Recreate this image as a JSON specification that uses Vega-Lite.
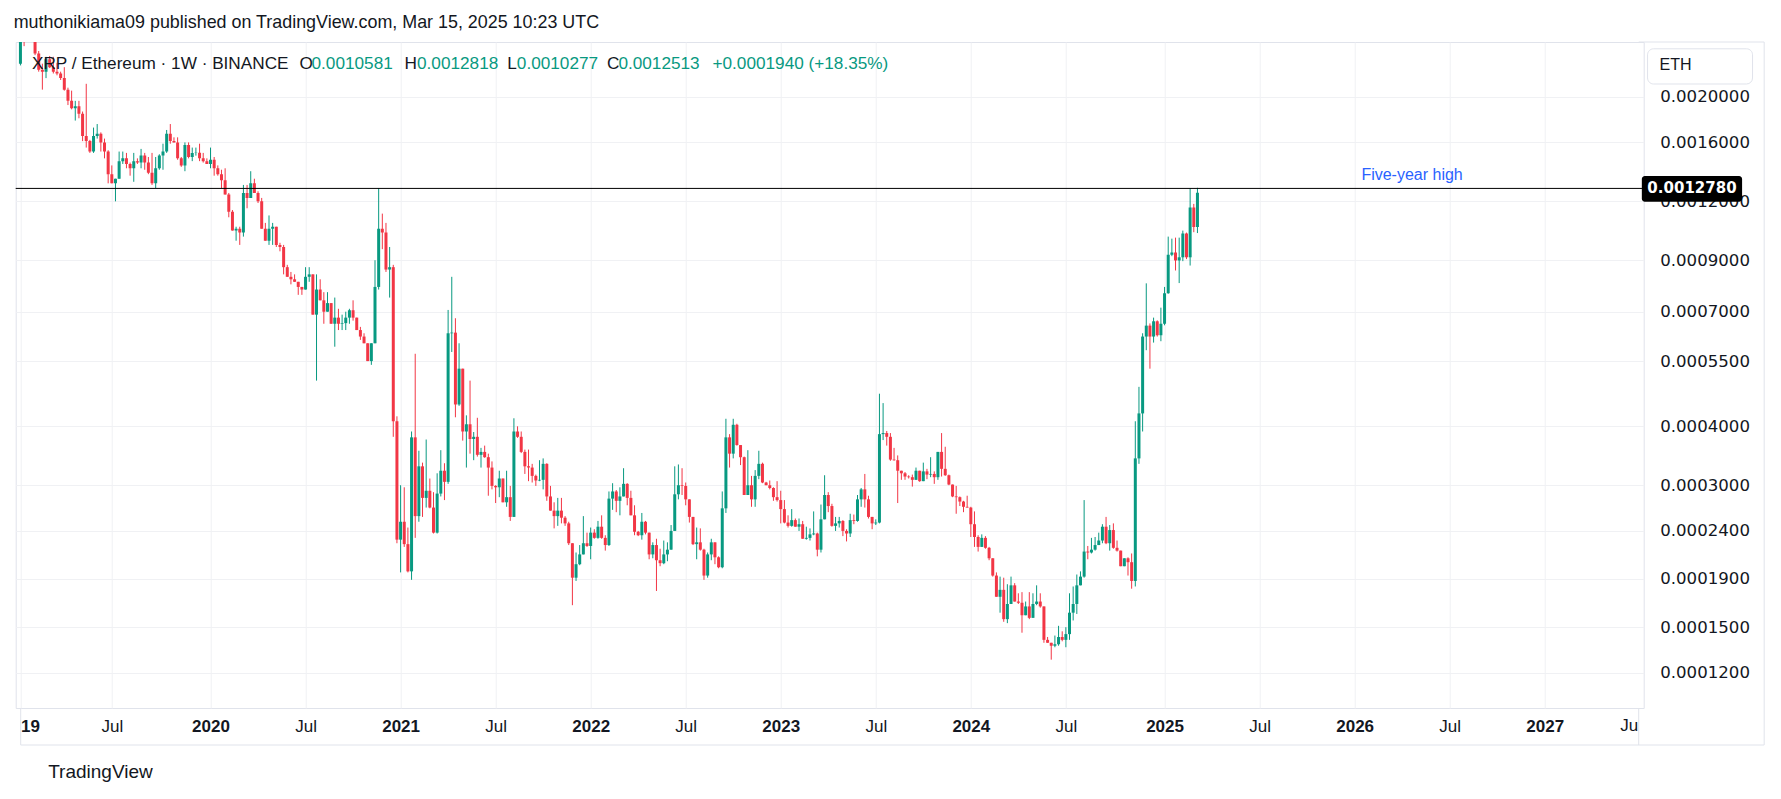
{
  "$schema": "https://vega.github.io/schema/vega-lite/v6.json",
  "width": 1628,
  "height": 666,
  "autosize": {"type": "none"},
  "padding": {"left": 15.7, "top": 42, "right": 137.3, "bottom": 91},
  "background": "white",
  "title": {
    "text": "muthonikiama09 published on TradingView.com, Mar 15, 2025 10:23 UTC",
    "anchor": "start", "frame": "group", "font": "Liberation Sans", "fontSize": 17.9,
    "fontWeight": "normal", "color": "#131722", "baseline": "alphabetic", "offset": 14.6, "dx": -2, "dy": 19.3
  },
  "config": {
    "view": {"stroke": "#e0e3eb"},
    "font": "Liberation Sans"
  },
  "datasets": {
    "candles": [
      {"d":"2019-01-07","o":0.00235,"h":0.0028,"l":0.00233,"c":0.0027},
      {"d":"2019-01-14","o":0.0027,"h":0.0028,"l":0.00256,"c":0.00262},
      {"d":"2019-01-21","o":0.00262,"h":0.0029,"l":0.00262,"c":0.00282},
      {"d":"2019-01-28","o":0.00282,"h":0.00285,"l":0.00266,"c":0.00268},
      {"d":"2019-02-04","o":0.00268,"h":0.0027,"l":0.00245,"c":0.00247},
      {"d":"2019-02-11","o":0.00247,"h":0.0025,"l":0.00226,"c":0.00228},
      {"d":"2019-02-18","o":0.00228,"h":0.00235,"l":0.00207,"c":0.00226},
      {"d":"2019-02-25","o":0.00226,"h":0.00243,"l":0.00219,"c":0.0024},
      {"d":"2019-03-04","o":0.0024,"h":0.00244,"l":0.0023,"c":0.00231},
      {"d":"2019-03-11","o":0.00231,"h":0.00243,"l":0.00224,"c":0.00226},
      {"d":"2019-03-18","o":0.00226,"h":0.00236,"l":0.00222,"c":0.00224},
      {"d":"2019-03-25","o":0.00224,"h":0.00226,"l":0.00217,"c":0.00219},
      {"d":"2019-04-01","o":0.00219,"h":0.00231,"l":0.00206,"c":0.00207},
      {"d":"2019-04-08","o":0.00207,"h":0.00209,"l":0.00192,"c":0.00196},
      {"d":"2019-04-15","o":0.00196,"h":0.00206,"l":0.00188,"c":0.00189},
      {"d":"2019-04-22","o":0.00189,"h":0.00196,"l":0.00178,"c":0.00191},
      {"d":"2019-04-29","o":0.00191,"h":0.00196,"l":0.0018,"c":0.00184},
      {"d":"2019-05-06","o":0.00184,"h":0.00186,"l":0.00161,"c":0.00165},
      {"d":"2019-05-13","o":0.00165,"h":0.00213,"l":0.00156,"c":0.00161},
      {"d":"2019-05-20","o":0.00161,"h":0.00162,"l":0.00152,"c":0.00153},
      {"d":"2019-05-27","o":0.00153,"h":0.00172,"l":0.00152,"c":0.00165},
      {"d":"2019-06-03","o":0.00165,"h":0.00175,"l":0.00163,"c":0.00167},
      {"d":"2019-06-10","o":0.00167,"h":0.00168,"l":0.00153,"c":0.0016},
      {"d":"2019-06-17","o":0.0016,"h":0.00163,"l":0.00148,"c":0.00153},
      {"d":"2019-06-24","o":0.00153,"h":0.00154,"l":0.00131,"c":0.00137},
      {"d":"2019-07-01","o":0.00137,"h":0.00143,"l":0.00131,"c":0.00131},
      {"d":"2019-07-08","o":0.00131,"h":0.00134,"l":0.0012,"c":0.00134},
      {"d":"2019-07-15","o":0.00134,"h":0.00153,"l":0.00134,"c":0.00146},
      {"d":"2019-07-22","o":0.00146,"h":0.00153,"l":0.00144,"c":0.00148},
      {"d":"2019-07-29","o":0.00148,"h":0.00152,"l":0.00141,"c":0.00144},
      {"d":"2019-08-05","o":0.00144,"h":0.00145,"l":0.00136,"c":0.00141},
      {"d":"2019-08-12","o":0.00141,"h":0.00152,"l":0.00132,"c":0.00146},
      {"d":"2019-08-19","o":0.00146,"h":0.00148,"l":0.00144,"c":0.00145},
      {"d":"2019-08-26","o":0.00145,"h":0.00155,"l":0.00141,"c":0.0015},
      {"d":"2019-09-02","o":0.0015,"h":0.00152,"l":0.0014,"c":0.00145},
      {"d":"2019-09-09","o":0.00145,"h":0.00149,"l":0.00137,"c":0.00138},
      {"d":"2019-09-16","o":0.00138,"h":0.00152,"l":0.0013,"c":0.00131},
      {"d":"2019-09-23","o":0.00131,"h":0.00149,"l":0.00128,"c":0.00141},
      {"d":"2019-09-30","o":0.00141,"h":0.00151,"l":0.0014,"c":0.0015},
      {"d":"2019-10-07","o":0.0015,"h":0.00159,"l":0.0014,"c":0.00153},
      {"d":"2019-10-14","o":0.00153,"h":0.0017,"l":0.00152,"c":0.00167},
      {"d":"2019-10-21","o":0.00167,"h":0.00175,"l":0.00159,"c":0.00161},
      {"d":"2019-10-28","o":0.00161,"h":0.00164,"l":0.0016,"c":0.0016},
      {"d":"2019-11-04","o":0.0016,"h":0.00164,"l":0.00147,"c":0.00148},
      {"d":"2019-11-11","o":0.00148,"h":0.00149,"l":0.00142,"c":0.00143},
      {"d":"2019-11-18","o":0.00143,"h":0.0016,"l":0.00139,"c":0.00158},
      {"d":"2019-11-25","o":0.00158,"h":0.0016,"l":0.00148,"c":0.00149},
      {"d":"2019-12-02","o":0.00149,"h":0.00156,"l":0.00146,"c":0.00152},
      {"d":"2019-12-09","o":0.00152,"h":0.00156,"l":0.0015,"c":0.001521},
      {"d":"2019-12-16","o":0.001521,"h":0.00159,"l":0.00146,"c":0.00148},
      {"d":"2019-12-23","o":0.00148,"h":0.00152,"l":0.00145,"c":0.00146},
      {"d":"2019-12-30","o":0.00146,"h":0.00148,"l":0.00144,"c":0.00144},
      {"d":"2020-01-06","o":0.00144,"h":0.00156,"l":0.00141,"c":0.00147},
      {"d":"2020-01-13","o":0.00147,"h":0.00149,"l":0.00136,"c":0.00141},
      {"d":"2020-01-20","o":0.00141,"h":0.00143,"l":0.00136,"c":0.00137},
      {"d":"2020-01-27","o":0.00137,"h":0.0014,"l":0.00128,"c":0.00133},
      {"d":"2020-02-03","o":0.00133,"h":0.00141,"l":0.00124,"c":0.00124},
      {"d":"2020-02-10","o":0.00124,"h":0.00125,"l":0.00111,"c":0.00114},
      {"d":"2020-02-17","o":0.00114,"h":0.00115,"l":0.00104,"c":0.00104},
      {"d":"2020-02-24","o":0.00104,"h":0.00106,"l":0.00099,"c":0.00105},
      {"d":"2020-03-02","o":0.00105,"h":0.00106,"l":0.00097,"c":0.00103},
      {"d":"2020-03-09","o":0.00103,"h":0.0013,"l":0.00101,"c":0.00125},
      {"d":"2020-03-16","o":0.00125,"h":0.0013,"l":0.00116,"c":0.00122},
      {"d":"2020-03-23","o":0.00122,"h":0.00139,"l":0.00122,"c":0.00131},
      {"d":"2020-03-30","o":0.00131,"h":0.00134,"l":0.00125,"c":0.00125},
      {"d":"2020-04-06","o":0.00125,"h":0.00126,"l":0.00119,"c":0.0012},
      {"d":"2020-04-13","o":0.0012,"h":0.00122,"l":0.00105,"c":0.00105},
      {"d":"2020-04-20","o":0.00105,"h":0.00108,"l":0.00099,"c":0.00099},
      {"d":"2020-04-27","o":0.00099,"h":0.00112,"l":0.00097,"c":0.00105},
      {"d":"2020-05-04","o":0.00105,"h":0.00108,"l":0.00097,"c":0.00106},
      {"d":"2020-05-11","o":0.00106,"h":0.00106,"l":0.00096,"c":0.00097},
      {"d":"2020-05-18","o":0.00097,"h":0.00098,"l":0.00094,"c":0.00096},
      {"d":"2020-05-25","o":0.00096,"h":0.00097,"l":0.00084,"c":0.00087},
      {"d":"2020-06-01","o":0.00087,"h":0.00088,"l":0.00083,"c":0.00083},
      {"d":"2020-06-08","o":0.00083,"h":0.00085,"l":0.0008,"c":0.00082},
      {"d":"2020-06-15","o":0.00082,"h":0.00084,"l":0.00081,"c":0.00081},
      {"d":"2020-06-22","o":0.00081,"h":0.00081,"l":0.00076,"c":0.00079},
      {"d":"2020-06-29","o":0.00079,"h":0.00079,"l":0.00076,"c":0.00078},
      {"d":"2020-07-06","o":0.00078,"h":0.00087,"l":0.00078,"c":0.00083},
      {"d":"2020-07-13","o":0.00083,"h":0.00087,"l":0.00081,"c":0.00084},
      {"d":"2020-07-20","o":0.00084,"h":0.00084,"l":0.00069,"c":0.00069},
      {"d":"2020-07-27","o":0.00069,"h":0.00084,"l":0.0005,"c":0.00078},
      {"d":"2020-08-03","o":0.00078,"h":0.00082,"l":0.00074,"c":0.00074},
      {"d":"2020-08-10","o":0.00074,"h":0.00077,"l":0.00066,"c":0.0007},
      {"d":"2020-08-17","o":0.0007,"h":0.00077,"l":0.0007,"c":0.00073},
      {"d":"2020-08-24","o":0.00073,"h":0.00073,"l":0.00066,"c":0.00066},
      {"d":"2020-08-31","o":0.00066,"h":0.00075,"l":0.00059,"c":0.00068},
      {"d":"2020-09-07","o":0.00068,"h":0.00071,"l":0.00064,"c":0.00066},
      {"d":"2020-09-14","o":0.00066,"h":0.00069,"l":0.00064,"c":0.000662},
      {"d":"2020-09-21","o":0.000662,"h":0.0007,"l":0.00064,"c":0.00068},
      {"d":"2020-09-28","o":0.00068,"h":0.00071,"l":0.00066,"c":0.000705},
      {"d":"2020-10-05","o":0.000705,"h":0.00074,"l":0.00067,"c":0.00068},
      {"d":"2020-10-12","o":0.00068,"h":0.00068,"l":0.00064,"c":0.00064},
      {"d":"2020-10-19","o":0.00064,"h":0.00065,"l":0.00061,"c":0.00062},
      {"d":"2020-10-26","o":0.00062,"h":0.00063,"l":0.0006,"c":0.0006},
      {"d":"2020-11-02","o":0.0006,"h":0.0006,"l":0.00055,"c":0.00055},
      {"d":"2020-11-09","o":0.00055,"h":0.0006,"l":0.00054,"c":0.0006},
      {"d":"2020-11-16","o":0.0006,"h":0.0009,"l":0.0006,"c":0.00079},
      {"d":"2020-11-23","o":0.00079,"h":0.00128,"l":0.00078,"c":0.00105},
      {"d":"2020-11-30","o":0.00105,"h":0.00113,"l":0.00095,"c":0.00103},
      {"d":"2020-12-07","o":0.00103,"h":0.00108,"l":0.00085,"c":0.00086},
      {"d":"2020-12-14","o":0.00086,"h":0.00096,"l":0.00075,"c":0.00087},
      {"d":"2020-12-21","o":0.00087,"h":0.00088,"l":0.00038,"c":0.00041},
      {"d":"2020-12-28","o":0.00041,"h":0.00042,"l":0.000226,"c":0.00023},
      {"d":"2021-01-04","o":0.00023,"h":0.0003,"l":0.000196,"c":0.000251},
      {"d":"2021-01-11","o":0.000251,"h":0.000297,"l":0.000222,"c":0.000225},
      {"d":"2021-01-18","o":0.000225,"h":0.000244,"l":0.000196,"c":0.000197},
      {"d":"2021-01-25","o":0.000197,"h":0.00039,"l":0.000189,"c":0.000379},
      {"d":"2021-02-01","o":0.000379,"h":0.00057,"l":0.000232,"c":0.000258},
      {"d":"2021-02-08","o":0.000258,"h":0.000355,"l":0.000251,"c":0.000329},
      {"d":"2021-02-15","o":0.000329,"h":0.000335,"l":0.000257,"c":0.000282},
      {"d":"2021-02-22","o":0.000282,"h":0.000375,"l":0.000269,"c":0.000292},
      {"d":"2021-03-01","o":0.000292,"h":0.00031,"l":0.000268,"c":0.000269},
      {"d":"2021-03-08","o":0.000269,"h":0.00029,"l":0.000237,"c":0.000238},
      {"d":"2021-03-15","o":0.000238,"h":0.000318,"l":0.000237,"c":0.000288},
      {"d":"2021-03-22","o":0.000288,"h":0.000356,"l":0.000284,"c":0.000322},
      {"d":"2021-03-29","o":0.000322,"h":0.000334,"l":0.000279,"c":0.000305},
      {"d":"2021-04-05","o":0.000305,"h":0.000706,"l":0.000302,"c":0.00063},
      {"d":"2021-04-12","o":0.00063,"h":0.00083,"l":0.000575,"c":0.000632},
      {"d":"2021-04-19","o":0.000632,"h":0.000678,"l":0.000418,"c":0.000445},
      {"d":"2021-04-26","o":0.000445,"h":0.0006,"l":0.000442,"c":0.00053},
      {"d":"2021-05-03","o":0.00053,"h":0.00053,"l":0.000373,"c":0.00039},
      {"d":"2021-05-10","o":0.00039,"h":0.000422,"l":0.000327,"c":0.000404},
      {"d":"2021-05-17","o":0.000404,"h":0.0005,"l":0.00035,"c":0.000376},
      {"d":"2021-05-24","o":0.000376,"h":0.000389,"l":0.000339,"c":0.00038},
      {"d":"2021-05-31","o":0.00038,"h":0.000417,"l":0.000345,"c":0.000348},
      {"d":"2021-06-07","o":0.000348,"h":0.00036,"l":0.000327,"c":0.000353},
      {"d":"2021-06-14","o":0.000353,"h":0.000364,"l":0.000343,"c":0.000344},
      {"d":"2021-06-21","o":0.000344,"h":0.00035,"l":0.000285,"c":0.000327},
      {"d":"2021-06-28","o":0.000327,"h":0.000337,"l":0.000294,"c":0.000299},
      {"d":"2021-07-05","o":0.000299,"h":0.0003,"l":0.000275,"c":0.000297},
      {"d":"2021-07-12","o":0.000297,"h":0.000322,"l":0.000283,"c":0.00031},
      {"d":"2021-07-19","o":0.00031,"h":0.00031,"l":0.000276,"c":0.000276},
      {"d":"2021-07-26","o":0.000276,"h":0.000322,"l":0.00027,"c":0.000283},
      {"d":"2021-08-02","o":0.000283,"h":0.000299,"l":0.000252,"c":0.000257},
      {"d":"2021-08-09","o":0.000257,"h":0.000416,"l":0.000257,"c":0.00039},
      {"d":"2021-08-16","o":0.00039,"h":0.0004,"l":0.000378,"c":0.00038},
      {"d":"2021-08-23","o":0.00038,"h":0.00039,"l":0.000351,"c":0.000353},
      {"d":"2021-08-30","o":0.000353,"h":0.000357,"l":0.000317,"c":0.000329},
      {"d":"2021-09-06","o":0.000329,"h":0.000357,"l":0.000306,"c":0.000327},
      {"d":"2021-09-13","o":0.000327,"h":0.000333,"l":0.000304,"c":0.000314},
      {"d":"2021-09-20","o":0.000314,"h":0.000316,"l":0.000299,"c":0.000307},
      {"d":"2021-09-27","o":0.000307,"h":0.000339,"l":0.000306,"c":0.000308},
      {"d":"2021-10-04","o":0.000308,"h":0.000342,"l":0.000294,"c":0.000333},
      {"d":"2021-10-11","o":0.000333,"h":0.000334,"l":0.000278,"c":0.000284},
      {"d":"2021-10-18","o":0.000284,"h":0.000299,"l":0.000265,"c":0.000265},
      {"d":"2021-10-25","o":0.000265,"h":0.000276,"l":0.000243,"c":0.000258},
      {"d":"2021-11-01","o":0.000258,"h":0.000282,"l":0.000246,"c":0.000265},
      {"d":"2021-11-08","o":0.000265,"h":0.000282,"l":0.000249,"c":0.000256},
      {"d":"2021-11-15","o":0.000256,"h":0.000258,"l":0.000246,"c":0.000249},
      {"d":"2021-11-22","o":0.000249,"h":0.000251,"l":0.000224,"c":0.000226},
      {"d":"2021-11-29","o":0.000226,"h":0.000226,"l":0.000167,"c":0.000191},
      {"d":"2021-12-06","o":0.000191,"h":0.000216,"l":0.000188,"c":0.000204},
      {"d":"2021-12-13","o":0.000204,"h":0.000224,"l":0.000203,"c":0.000214},
      {"d":"2021-12-20","o":0.000214,"h":0.000258,"l":0.000214,"c":0.000226},
      {"d":"2021-12-27","o":0.000226,"h":0.000238,"l":0.000222,"c":0.000223},
      {"d":"2022-01-03","o":0.000223,"h":0.000244,"l":0.000209,"c":0.000238},
      {"d":"2022-01-10","o":0.000238,"h":0.000242,"l":0.000231,"c":0.000232},
      {"d":"2022-01-17","o":0.000232,"h":0.000252,"l":0.000231,"c":0.000245},
      {"d":"2022-01-24","o":0.000245,"h":0.000259,"l":0.000231,"c":0.000232},
      {"d":"2022-01-31","o":0.000232,"h":0.000235,"l":0.000218,"c":0.000224},
      {"d":"2022-02-07","o":0.000224,"h":0.000291,"l":0.000223,"c":0.000281},
      {"d":"2022-02-14","o":0.000281,"h":0.000303,"l":0.000266,"c":0.000291},
      {"d":"2022-02-21","o":0.000291,"h":0.000293,"l":0.000263,"c":0.000278},
      {"d":"2022-02-28","o":0.000278,"h":0.000297,"l":0.000259,"c":0.000284},
      {"d":"2022-03-07","o":0.000284,"h":0.000326,"l":0.000284,"c":0.000302},
      {"d":"2022-03-14","o":0.000302,"h":0.000303,"l":0.000272,"c":0.000282},
      {"d":"2022-03-21","o":0.000282,"h":0.000292,"l":0.000259,"c":0.000259},
      {"d":"2022-03-28","o":0.000259,"h":0.000272,"l":0.000235,"c":0.000239},
      {"d":"2022-04-04","o":0.000239,"h":0.00024,"l":0.000234,"c":0.000235},
      {"d":"2022-04-11","o":0.000235,"h":0.000262,"l":0.00023,"c":0.000251},
      {"d":"2022-04-18","o":0.000251,"h":0.000252,"l":0.000236,"c":0.000238},
      {"d":"2022-04-25","o":0.000238,"h":0.000238,"l":0.000209,"c":0.000214},
      {"d":"2022-05-02","o":0.000214,"h":0.000227,"l":0.00021,"c":0.000224},
      {"d":"2022-05-09","o":0.000224,"h":0.000231,"l":0.000179,"c":0.000208},
      {"d":"2022-05-16","o":0.000208,"h":0.00022,"l":0.000202,"c":0.000205},
      {"d":"2022-05-23","o":0.000205,"h":0.000229,"l":0.000204,"c":0.000214},
      {"d":"2022-05-30","o":0.000214,"h":0.000227,"l":0.000207,"c":0.000219},
      {"d":"2022-06-06","o":0.000219,"h":0.000247,"l":0.000219,"c":0.00024},
      {"d":"2022-06-13","o":0.00024,"h":0.000329,"l":0.00024,"c":0.000287},
      {"d":"2022-06-20","o":0.000287,"h":0.000332,"l":0.00028,"c":0.0003},
      {"d":"2022-06-27","o":0.0003,"h":0.000326,"l":0.000286,"c":0.000299},
      {"d":"2022-07-04","o":0.000299,"h":0.000304,"l":0.000272,"c":0.00028},
      {"d":"2022-07-11","o":0.00028,"h":0.00028,"l":0.00025,"c":0.000257},
      {"d":"2022-07-18","o":0.000257,"h":0.000257,"l":0.000224,"c":0.000225},
      {"d":"2022-07-25","o":0.000225,"h":0.000244,"l":0.000209,"c":0.000227},
      {"d":"2022-08-01","o":0.000227,"h":0.000243,"l":0.000218,"c":0.000219},
      {"d":"2022-08-08","o":0.000219,"h":0.00022,"l":0.000189,"c":0.000193},
      {"d":"2022-08-15","o":0.000193,"h":0.000216,"l":0.000191,"c":0.000214},
      {"d":"2022-08-22","o":0.000214,"h":0.000231,"l":0.000208,"c":0.000227},
      {"d":"2022-08-29","o":0.000227,"h":0.000227,"l":0.000204,"c":0.000211},
      {"d":"2022-09-05","o":0.000211,"h":0.000212,"l":0.0002,"c":0.000201},
      {"d":"2022-09-12","o":0.000201,"h":0.000291,"l":0.0002,"c":0.000268},
      {"d":"2022-09-19","o":0.000268,"h":0.000415,"l":0.000262,"c":0.000379},
      {"d":"2022-09-26","o":0.000379,"h":0.000385,"l":0.000327,"c":0.00035},
      {"d":"2022-10-03","o":0.00035,"h":0.000415,"l":0.000342,"c":0.000403},
      {"d":"2022-10-10","o":0.000403,"h":0.000405,"l":0.000364,"c":0.000365},
      {"d":"2022-10-17","o":0.000365,"h":0.000365,"l":0.000331,"c":0.000344},
      {"d":"2022-10-24","o":0.000344,"h":0.000345,"l":0.000286,"c":0.000286},
      {"d":"2022-10-31","o":0.000286,"h":0.000356,"l":0.000286,"c":0.0003},
      {"d":"2022-11-07","o":0.0003,"h":0.000314,"l":0.00027,"c":0.00028},
      {"d":"2022-11-14","o":0.00028,"h":0.000323,"l":0.00027,"c":0.000314},
      {"d":"2022-11-21","o":0.000314,"h":0.000355,"l":0.000309,"c":0.000333},
      {"d":"2022-11-28","o":0.000333,"h":0.000335,"l":0.000303,"c":0.000304},
      {"d":"2022-12-05","o":0.000304,"h":0.000305,"l":0.0003,"c":0.0003},
      {"d":"2022-12-12","o":0.0003,"h":0.000307,"l":0.000294,"c":0.000296},
      {"d":"2022-12-19","o":0.000296,"h":0.000297,"l":0.000278,"c":0.000283},
      {"d":"2022-12-26","o":0.000283,"h":0.000306,"l":0.000277,"c":0.000279},
      {"d":"2023-01-02","o":0.000279,"h":0.000292,"l":0.000249,"c":0.000267},
      {"d":"2023-01-09","o":0.000267,"h":0.000279,"l":0.000249,"c":0.00025},
      {"d":"2023-01-16","o":0.00025,"h":0.000259,"l":0.000244,"c":0.000246},
      {"d":"2023-01-23","o":0.000246,"h":0.000267,"l":0.000245,"c":0.000253},
      {"d":"2023-01-30","o":0.000253,"h":0.000255,"l":0.000245,"c":0.000245},
      {"d":"2023-02-06","o":0.000245,"h":0.000255,"l":0.00024,"c":0.000248},
      {"d":"2023-02-13","o":0.000248,"h":0.000252,"l":0.000231,"c":0.000231},
      {"d":"2023-02-20","o":0.000231,"h":0.000245,"l":0.00023,"c":0.000232},
      {"d":"2023-02-27","o":0.000232,"h":0.000243,"l":0.000229,"c":0.000236},
      {"d":"2023-03-06","o":0.000236,"h":0.000264,"l":0.000235,"c":0.000237},
      {"d":"2023-03-13","o":0.000237,"h":0.000238,"l":0.000212,"c":0.000219},
      {"d":"2023-03-20","o":0.000219,"h":0.000273,"l":0.000216,"c":0.000254},
      {"d":"2023-03-27","o":0.000254,"h":0.000315,"l":0.000254,"c":0.000286},
      {"d":"2023-04-03","o":0.000286,"h":0.00029,"l":0.000263,"c":0.000271},
      {"d":"2023-04-10","o":0.000271,"h":0.000274,"l":0.000245,"c":0.000246},
      {"d":"2023-04-17","o":0.000246,"h":0.000257,"l":0.00024,"c":0.000249},
      {"d":"2023-04-24","o":0.000249,"h":0.000257,"l":0.000244,"c":0.000252},
      {"d":"2023-05-01","o":0.000252,"h":0.000253,"l":0.000234,"c":0.00024},
      {"d":"2023-05-08","o":0.00024,"h":0.000242,"l":0.000228,"c":0.000237},
      {"d":"2023-05-15","o":0.000237,"h":0.000261,"l":0.000233,"c":0.000253},
      {"d":"2023-05-22","o":0.000253,"h":0.00026,"l":0.000248,"c":0.000252},
      {"d":"2023-05-29","o":0.000252,"h":0.000286,"l":0.000251,"c":0.00028},
      {"d":"2023-06-05","o":0.00028,"h":0.000296,"l":0.00027,"c":0.000294},
      {"d":"2023-06-12","o":0.000294,"h":0.000317,"l":0.000269,"c":0.00028},
      {"d":"2023-06-19","o":0.00028,"h":0.000285,"l":0.000255,"c":0.000257},
      {"d":"2023-06-26","o":0.000257,"h":0.000257,"l":0.000242,"c":0.000249},
      {"d":"2023-07-03","o":0.000249,"h":0.000254,"l":0.000247,"c":0.00025},
      {"d":"2023-07-10","o":0.00025,"h":0.000469,"l":0.000249,"c":0.000385},
      {"d":"2023-07-17","o":0.000385,"h":0.000448,"l":0.000374,"c":0.000387},
      {"d":"2023-07-24","o":0.000387,"h":0.000391,"l":0.000364,"c":0.00038},
      {"d":"2023-07-31","o":0.00038,"h":0.000387,"l":0.000338,"c":0.00034},
      {"d":"2023-08-07","o":0.00034,"h":0.00036,"l":0.000338,"c":0.000339},
      {"d":"2023-08-14","o":0.000339,"h":0.000347,"l":0.000275,"c":0.000322},
      {"d":"2023-08-21","o":0.000322,"h":0.000322,"l":0.000308,"c":0.000318},
      {"d":"2023-08-28","o":0.000318,"h":0.00032,"l":0.000308,"c":0.000313},
      {"d":"2023-09-04","o":0.000313,"h":0.000315,"l":0.00031,"c":0.000312},
      {"d":"2023-09-11","o":0.000312,"h":0.000316,"l":0.000298,"c":0.000308},
      {"d":"2023-09-18","o":0.000308,"h":0.000327,"l":0.000308,"c":0.000322},
      {"d":"2023-09-25","o":0.000322,"h":0.000322,"l":0.000305,"c":0.000306},
      {"d":"2023-10-02","o":0.000306,"h":0.000335,"l":0.000306,"c":0.000321},
      {"d":"2023-10-09","o":0.000321,"h":0.000325,"l":0.000309,"c":0.000316},
      {"d":"2023-10-16","o":0.000316,"h":0.000344,"l":0.000312,"c":0.000317},
      {"d":"2023-10-23","o":0.000317,"h":0.000321,"l":0.000302,"c":0.000312},
      {"d":"2023-10-30","o":0.000312,"h":0.000353,"l":0.000308,"c":0.000353},
      {"d":"2023-11-06","o":0.000353,"h":0.000387,"l":0.000313,"c":0.000325},
      {"d":"2023-11-13","o":0.000325,"h":0.000362,"l":0.000314,"c":0.000315},
      {"d":"2023-11-20","o":0.000315,"h":0.000316,"l":0.0003,"c":0.000301},
      {"d":"2023-11-27","o":0.000301,"h":0.000301,"l":0.000283,"c":0.000284},
      {"d":"2023-12-04","o":0.000284,"h":0.000299,"l":0.000261,"c":0.000283},
      {"d":"2023-12-11","o":0.000283,"h":0.000284,"l":0.000271,"c":0.000277},
      {"d":"2023-12-18","o":0.000277,"h":0.000278,"l":0.000263,"c":0.00027},
      {"d":"2023-12-25","o":0.00027,"h":0.000285,"l":0.000269,"c":0.000269},
      {"d":"2024-01-01","o":0.000269,"h":0.00027,"l":0.000233,"c":0.000248},
      {"d":"2024-01-08","o":0.000248,"h":0.000264,"l":0.000222,"c":0.000233},
      {"d":"2024-01-15","o":0.000233,"h":0.000235,"l":0.000217,"c":0.000222},
      {"d":"2024-01-22","o":0.000222,"h":0.000236,"l":0.000222,"c":0.000232},
      {"d":"2024-01-29","o":0.000232,"h":0.000234,"l":0.00022,"c":0.000221},
      {"d":"2024-02-05","o":0.000221,"h":0.000222,"l":0.000208,"c":0.00021},
      {"d":"2024-02-12","o":0.00021,"h":0.00021,"l":0.000192,"c":0.000193},
      {"d":"2024-02-19","o":0.000193,"h":0.000196,"l":0.000174,"c":0.000174},
      {"d":"2024-02-26","o":0.000174,"h":0.000192,"l":0.000161,"c":0.00018},
      {"d":"2024-03-04","o":0.00018,"h":0.000191,"l":0.000154,"c":0.000156},
      {"d":"2024-03-11","o":0.000156,"h":0.000185,"l":0.000153,"c":0.000168},
      {"d":"2024-03-18","o":0.000168,"h":0.000192,"l":0.000168,"c":0.000184},
      {"d":"2024-03-25","o":0.000184,"h":0.000186,"l":0.00017,"c":0.00017},
      {"d":"2024-04-01","o":0.00017,"h":0.000177,"l":0.000168,"c":0.000169},
      {"d":"2024-04-08","o":0.000169,"h":0.000178,"l":0.000146,"c":0.000159},
      {"d":"2024-04-15","o":0.000159,"h":0.00017,"l":0.000159,"c":0.000166},
      {"d":"2024-04-22","o":0.000166,"h":0.000178,"l":0.000156,"c":0.000157},
      {"d":"2024-04-29","o":0.000157,"h":0.000177,"l":0.000157,"c":0.000168},
      {"d":"2024-05-06","o":0.000168,"h":0.000184,"l":0.000167,"c":0.00017},
      {"d":"2024-05-13","o":0.00017,"h":0.000177,"l":0.000165,"c":0.000166},
      {"d":"2024-05-20","o":0.000166,"h":0.000166,"l":0.000139,"c":0.000141},
      {"d":"2024-05-27","o":0.000141,"h":0.000143,"l":0.000139,"c":0.000139},
      {"d":"2024-06-03","o":0.000139,"h":0.000139,"l":0.000128,"c":0.000137},
      {"d":"2024-06-10","o":0.000137,"h":0.000144,"l":0.000136,"c":0.000138},
      {"d":"2024-06-17","o":0.000138,"h":0.000151,"l":0.000137,"c":0.000143},
      {"d":"2024-06-24","o":0.000143,"h":0.000147,"l":0.00014,"c":0.000141},
      {"d":"2024-07-01","o":0.000141,"h":0.00015,"l":0.000136,"c":0.000145},
      {"d":"2024-07-08","o":0.000145,"h":0.000177,"l":0.000141,"c":0.000161},
      {"d":"2024-07-15","o":0.000161,"h":0.000183,"l":0.000155,"c":0.000168},
      {"d":"2024-07-22","o":0.000168,"h":0.000194,"l":0.00016,"c":0.000184},
      {"d":"2024-07-29","o":0.000184,"h":0.000197,"l":0.000184,"c":0.000192},
      {"d":"2024-08-05","o":0.000192,"h":0.000279,"l":0.000191,"c":0.000217},
      {"d":"2024-08-12","o":0.000217,"h":0.000223,"l":0.000209,"c":0.000216},
      {"d":"2024-08-19","o":0.000216,"h":0.000232,"l":0.000215,"c":0.000219},
      {"d":"2024-08-26","o":0.000219,"h":0.000233,"l":0.000218,"c":0.000224},
      {"d":"2024-09-02","o":0.000224,"h":0.000238,"l":0.000224,"c":0.000229},
      {"d":"2024-09-09","o":0.000229,"h":0.000248,"l":0.000226,"c":0.000245},
      {"d":"2024-09-16","o":0.000245,"h":0.000257,"l":0.000225,"c":0.000226},
      {"d":"2024-09-23","o":0.000226,"h":0.000247,"l":0.000218,"c":0.000241},
      {"d":"2024-09-30","o":0.000241,"h":0.000249,"l":0.00022,"c":0.000221},
      {"d":"2024-10-07","o":0.000221,"h":0.000229,"l":0.000217,"c":0.000218},
      {"d":"2024-10-14","o":0.000218,"h":0.000218,"l":0.000202,"c":0.000202},
      {"d":"2024-10-21","o":0.000202,"h":0.00021,"l":0.000202,"c":0.00021},
      {"d":"2024-10-28","o":0.00021,"h":0.000211,"l":0.000193,"c":0.000206},
      {"d":"2024-11-04","o":0.000206,"h":0.000215,"l":0.000181,"c":0.000188},
      {"d":"2024-11-11","o":0.000188,"h":0.00041,"l":0.000183,"c":0.000342},
      {"d":"2024-11-18","o":0.000342,"h":0.000485,"l":0.000333,"c":0.000426},
      {"d":"2024-11-25","o":0.000426,"h":0.00063,"l":0.00039,"c":0.00062},
      {"d":"2024-12-02","o":0.00062,"h":0.000804,"l":0.00058,"c":0.000654},
      {"d":"2024-12-09","o":0.000654,"h":0.000661,"l":0.00053,"c":0.00062},
      {"d":"2024-12-16","o":0.00062,"h":0.00068,"l":0.000602,"c":0.000668},
      {"d":"2024-12-23","o":0.000668,"h":0.000671,"l":0.00062,"c":0.000624},
      {"d":"2024-12-30","o":0.000624,"h":0.000714,"l":0.000606,"c":0.00066},
      {"d":"2025-01-06","o":0.00066,"h":0.00079,"l":0.000655,"c":0.000766},
      {"d":"2025-01-13","o":0.000766,"h":0.00101,"l":0.000764,"c":0.000924},
      {"d":"2025-01-20","o":0.000924,"h":0.001,"l":0.000918,"c":0.000935},
      {"d":"2025-01-27","o":0.000935,"h":0.001005,"l":0.000856,"c":0.000899},
      {"d":"2025-02-03","o":0.000899,"h":0.001005,"l":0.000805,"c":0.000913},
      {"d":"2025-02-10","o":0.000913,"h":0.00104,"l":0.000896,"c":0.001026},
      {"d":"2025-02-17","o":0.001026,"h":0.00103,"l":0.000905,"c":0.000913},
      {"d":"2025-02-24","o":0.000913,"h":0.001278,"l":0.000877,"c":0.001165},
      {"d":"2025-03-03","o":0.001165,"h":0.001185,"l":0.001032,"c":0.0010581},
      {"d":"2025-03-10","o":0.0010581,"h":0.0012818,"l":0.0010277,"c":0.0012513}
    ]
  },
  "layer": [
    {
      "data": {"name": "candles"},
      "mark": {"type": "rule", "clip": true, "strokeWidth": 1},
      "encoding": {
        "x": {
          "field": "d", "type": "temporal",
          "scale": {"type": "utc", "domain": [{"year": 2019, "month": 1, "date": 7, "hours": 12, "utc": true}, {"year": 2027, "month": 7, "date": 3, "utc": true}]},
          "axis": {
            "values": [
              {"year": 2019, "month": 1, "date": 7, "utc": true},
              {"year": 2019, "month": 7, "date": 1, "utc": true},
              {"year": 2020, "month": 1, "date": 6, "utc": true},
              {"year": 2020, "month": 7, "date": 6, "utc": true},
              {"year": 2021, "month": 1, "date": 4, "utc": true},
              {"year": 2021, "month": 7, "date": 5, "utc": true},
              {"year": 2022, "month": 1, "date": 3, "utc": true},
              {"year": 2022, "month": 7, "date": 4, "utc": true},
              {"year": 2023, "month": 1, "date": 2, "utc": true},
              {"year": 2023, "month": 7, "date": 3, "utc": true},
              {"year": 2024, "month": 1, "date": 1, "utc": true},
              {"year": 2024, "month": 7, "date": 1, "utc": true},
              {"year": 2025, "month": 1, "date": 6, "utc": true},
              {"year": 2025, "month": 7, "date": 7, "utc": true},
              {"year": 2026, "month": 1, "date": 5, "utc": true},
              {"year": 2026, "month": 7, "date": 6, "utc": true},
              {"year": 2027, "month": 1, "date": 4, "utc": true}
            ],
            "labelExpr": "utcmonth(datum.value) == 0 ? (utcyear(datum.value) == 2019 ? '19' : '' + utcyear(datum.value)) : 'Jul'",
            "labelFontWeight": {"condition": {"test": "utcmonth(datum.value) == 0", "value": "bold"}, "value": "normal"},
            "labelAlign": {"condition": {"test": "utcyear(datum.value) == 2019 && utcmonth(datum.value) == 0", "value": "left"}, "value": "center"},
            "labelFont": "Liberation Sans", "labelFontSize": 17, "labelColor": "#131722",
            "labelFlush": false, "labelOverlap": false, "labelBaseline": "middle", "labelPadding": 18,
            "ticks": false, "tickSize": 0, "domain": false,
            "grid": true, "gridColor": "#f0f1f4", "gridWidth": 1,
            "title": "TradingView", "titleAnchor": "start", "titleAlign": "left", "titleBaseline": "middle",
            "titleX": 32, "titleY": 63, "titleFont": "Liberation Sans", "titleFontSize": 19, "titleFontWeight": "normal", "titleColor": "#131722"
          }
        },
        "y": {
          "field": "l", "type": "quantitative",
          "scale": {"type": "log", "domain": [0.00010109, 0.0026123], "nice": false, "zero": false},
          "axis": {
            "orient": "right",
            "values": [0.002, 0.0016, 0.0012, 0.0009, 0.0007, 0.00055, 0.0004, 0.0003, 0.00024, 0.00019, 0.00015, 0.00012],
            "format": ".7f",
            "labelFont": "DejaVu Sans", "labelFontSize": 16.6, "labelColor": "#131722",
            "labelAlign": "left", "labelBaseline": "middle", "labelPadding": 16,
            "ticks": false, "tickSize": 0, "domain": false,
            "grid": true, "gridColor": "#f0f1f4", "gridWidth": 1,
            "title": null
          }
        },
        "y2": {"field": "h"},
        "color": {"condition": {"test": "datum.c >= datum.o", "value": "#089981"}, "value": "#F23645"}
      }
    },
    {
      "data": {"name": "candles"},
      "mark": {"type": "bar", "clip": true, "size": 3},
      "encoding": {
        "x": {"field": "d", "type": "temporal"},
        "y": {"field": "o", "type": "quantitative"},
        "y2": {"field": "c"},
        "color": {"condition": {"test": "datum.c >= datum.o", "value": "#089981"}, "value": "#F23645"}
      }
    },
    {
      "data": {"values": [{}]},
      "mark": {"type": "rule", "color": "#000000", "strokeWidth": 1},
      "encoding": {"y": {"datum": 0.001278, "type": "quantitative"}}
    },
    {
      "data": {"values": [{}]},
      "mark": {"type": "rule", "color": "#e0e3eb", "strokeWidth": 1},
      "encoding": {
        "x": {"datum": {"year": 2019, "month": 1, "date": 7, "hours": 12, "utc": true}, "type": "temporal"},
        "x2": {"datum": {"year": 2028, "month": 2, "date": 28, "hours": 7, "utc": true}},
        "y": {"datum": 0.00008438, "type": "quantitative"}
      }
    },
    {
      "data": {"values": [{}]},
      "mark": {"type": "rule", "color": "#e0e3eb", "strokeWidth": 1},
      "encoding": {
        "x": {"datum": {"year": 2027, "month": 7, "date": 3, "utc": true}, "type": "temporal"},
        "x2": {"datum": {"year": 2028, "month": 2, "date": 28, "hours": 7, "utc": true}},
        "y": {"datum": 0.0026123, "type": "quantitative"}
      }
    },
    {
      "data": {"values": [{}]},
      "mark": {"type": "rule", "color": "#e0e3eb", "strokeWidth": 1},
      "encoding": {
        "x": {"datum": {"year": 2028, "month": 2, "date": 28, "hours": 7, "utc": true}, "type": "temporal"},
        "y": {"datum": 0.0026123, "type": "quantitative"},
        "y2": {"datum": 0.00008438}
      }
    },
    {
      "data": {"values": [{}]},
      "mark": {"type": "rule", "color": "#e0e3eb", "strokeWidth": 1},
      "encoding": {
        "x": {"datum": {"year": 2027, "month": 7, "date": 3, "utc": true}, "type": "temporal"},
        "y": {"datum": 0.00010109, "type": "quantitative"},
        "y2": {"datum": 0.00008438}
      }
    },
    {
      "data": {"values": [{}]},
      "mark": {"type": "rule", "color": "#e0e3eb", "strokeWidth": 1},
      "encoding": {
        "x": {"datum": {"year": 2019, "month": 1, "date": 7, "hours": 12, "utc": true}, "type": "temporal"},
        "y": {"datum": 0.00010109, "type": "quantitative"},
        "y2": {"datum": 0.00008438}
      }
    },
    {
      "data": {"values": [{}]},
      "mark": {"type": "text", "text": "Ju", "color": "#131722", "font": "Liberation Sans", "fontSize": 17, "align": "right", "baseline": "middle"},
      "encoding": {
        "x": {"datum": {"year": 2027, "month": 7, "date": 2, "utc": true}, "type": "temporal"},
        "y": {"datum": 0.00009258, "type": "quantitative"}
      }
    },
    {
      "data": {"values": [{}]},
      "mark": {"type": "text", "text": "Five-year high", "color": "#2962FF", "font": "Liberation Sans", "fontSize": 16, "align": "center", "baseline": "middle"},
      "encoding": {
        "x": {"datum": {"year": 2026, "month": 4, "date": 25, "utc": true}, "type": "temporal"},
        "y": {"datum": 0.0013646, "type": "quantitative"}
      }
    },
    {
      "data": {"values": [{}]},
      "mark": {"type": "rect", "color": "#000000", "cornerRadius": 3},
      "encoding": {
        "x": {"datum": {"year": 2027, "month": 7, "date": 9, "utc": true}, "type": "temporal"},
        "x2": {"datum": {"year": 2028, "month": 1, "date": 17, "utc": true}},
        "y": {"datum": 0.001358, "type": "quantitative"},
        "y2": {"datum": 0.0011978}
      }
    },
    {
      "data": {"values": [{}]},
      "mark": {"type": "text", "text": "0.0012780", "color": "#ffffff", "font": "DejaVu Sans", "fontSize": 15, "fontWeight": "bold", "align": "center", "baseline": "middle"},
      "encoding": {
        "x": {"datum": {"year": 2027, "month": 10, "date": 13, "utc": true}, "type": "temporal"},
        "y": {"datum": 0.001278, "type": "quantitative"}
      }
    },
    {
      "data": {"values": [{}]},
      "mark": {"type": "rect", "fill": "#ffffff", "stroke": "#e0e3eb", "strokeWidth": 1, "cornerRadius": 6},
      "encoding": {
        "x": {"datum": {"year": 2027, "month": 7, "date": 20, "utc": true}, "type": "temporal"},
        "x2": {"datum": {"year": 2028, "month": 2, "date": 6, "utc": true}},
        "y": {"datum": 0.002527, "type": "quantitative"},
        "y2": {"datum": 0.002128}
      }
    },
    {
      "data": {"values": [{}]},
      "mark": {"type": "text", "text": "ETH", "color": "#131722", "font": "Liberation Sans", "fontSize": 16, "align": "left", "baseline": "middle"},
      "encoding": {
        "x": {"datum": {"year": 2027, "month": 8, "date": 12, "utc": true}, "type": "temporal"},
        "y": {"datum": 0.002338, "type": "quantitative"}
      }
    },
    {
      "data": {"values": [{}]},
      "mark": {"type": "text", "text": "XRP / Ethereum · 1W · BINANCE", "color": "#131722", "font": "Liberation Sans", "fontSize": 17.2, "align": "left", "baseline": "middle"},
      "encoding": {
        "x": {"datum": {"year": 2019, "month": 1, "date": 29, "utc": true}, "type": "temporal"},
        "y": {"datum": 0.0023508, "type": "quantitative"}
      }
    },
    {
      "data": {"values": [{}]},
      "mark": {"type": "text", "text": "O", "color": "#131722", "font": "Liberation Sans", "fontSize": 17.2, "align": "left", "baseline": "middle"},
      "encoding": {
        "x": {"datum": {"year": 2020, "month": 6, "date": 24, "hours": 7, "utc": true}, "type": "temporal"},
        "y": {"datum": 0.0023508, "type": "quantitative"}
      }
    },
    {
      "data": {"values": [{}]},
      "mark": {"type": "text", "text": "0.0010581", "color": "#089981", "font": "Liberation Sans", "fontSize": 17.2, "align": "left", "baseline": "middle"},
      "encoding": {
        "x": {"datum": {"year": 2020, "month": 7, "date": 17, "hours": 10, "utc": true}, "type": "temporal"},
        "y": {"datum": 0.0023508, "type": "quantitative"}
      }
    },
    {
      "data": {"values": [{}]},
      "mark": {"type": "text", "text": "H", "color": "#131722", "font": "Liberation Sans", "fontSize": 17.2, "align": "left", "baseline": "middle"},
      "encoding": {
        "x": {"datum": {"year": 2021, "month": 1, "date": 11, "hours": 7, "utc": true}, "type": "temporal"},
        "y": {"datum": 0.0023508, "type": "quantitative"}
      }
    },
    {
      "data": {"values": [{}]},
      "mark": {"type": "text", "text": "0.0012818", "color": "#089981", "font": "Liberation Sans", "fontSize": 17.2, "align": "left", "baseline": "middle"},
      "encoding": {
        "x": {"datum": {"year": 2021, "month": 2, "date": 4, "hours": 12, "utc": true}, "type": "temporal"},
        "y": {"datum": 0.0023508, "type": "quantitative"}
      }
    },
    {
      "data": {"values": [{}]},
      "mark": {"type": "text", "text": "L", "color": "#131722", "font": "Liberation Sans", "fontSize": 17.2, "align": "left", "baseline": "middle"},
      "encoding": {
        "x": {"datum": {"year": 2021, "month": 7, "date": 27, "hours": 2, "utc": true}, "type": "temporal"},
        "y": {"datum": 0.0023508, "type": "quantitative"}
      }
    },
    {
      "data": {"values": [{}]},
      "mark": {"type": "text", "text": "0.0010277", "color": "#089981", "font": "Liberation Sans", "fontSize": 17.2, "align": "left", "baseline": "middle"},
      "encoding": {
        "x": {"datum": {"year": 2021, "month": 8, "date": 14, "hours": 14, "utc": true}, "type": "temporal"},
        "y": {"datum": 0.0023508, "type": "quantitative"}
      }
    },
    {
      "data": {"values": [{}]},
      "mark": {"type": "text", "text": "C", "color": "#131722", "font": "Liberation Sans", "fontSize": 17.2, "align": "left", "baseline": "middle"},
      "encoding": {
        "x": {"datum": {"year": 2022, "month": 2, "date": 3, "hours": 5, "utc": true}, "type": "temporal"},
        "y": {"datum": 0.0023508, "type": "quantitative"}
      }
    },
    {
      "data": {"values": [{}]},
      "mark": {"type": "text", "text": "0.0012513", "color": "#089981", "font": "Liberation Sans", "fontSize": 17.2, "align": "left", "baseline": "middle"},
      "encoding": {
        "x": {"datum": {"year": 2022, "month": 2, "date": 25, "hours": 2, "utc": true}, "type": "temporal"},
        "y": {"datum": 0.0023508, "type": "quantitative"}
      }
    },
    {
      "data": {"values": [{}]},
      "mark": {"type": "text", "text": "+0.0001940 (+18.35%)", "color": "#089981", "font": "Liberation Sans", "fontSize": 17.2, "align": "left", "baseline": "middle"},
      "encoding": {
        "x": {"datum": {"year": 2022, "month": 8, "date": 24, "hours": 7, "utc": true}, "type": "temporal"},
        "y": {"datum": 0.0023508, "type": "quantitative"}
      }
    }
  ]
}
